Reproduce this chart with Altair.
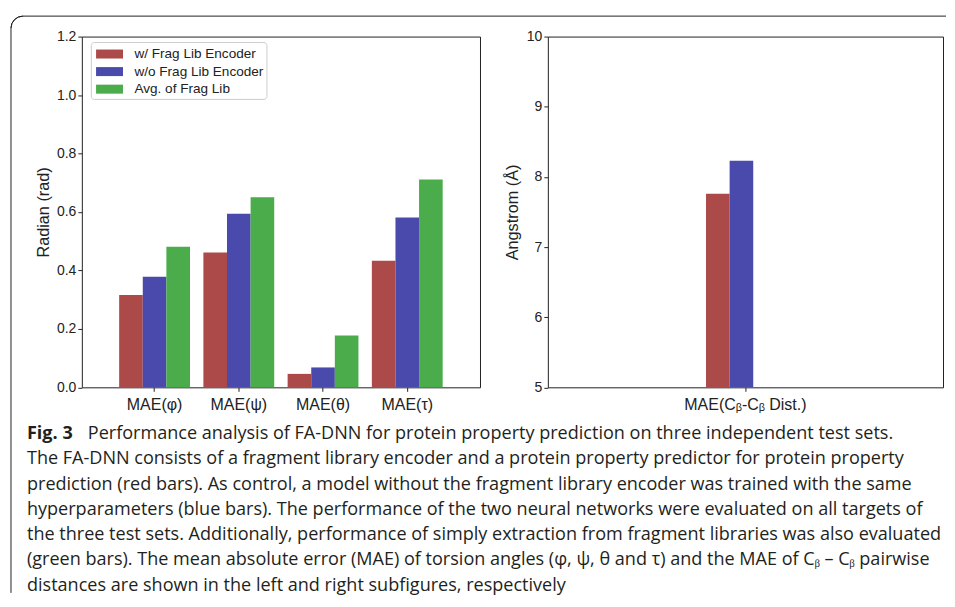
import altair as alt
import pandas as pd

# ---------------- data ----------------
metrics = ["MAE(φ)", "MAE(ψ)", "MAE(θ)", "MAE(τ)"]
series = ["w/ Frag Lib Encoder", "w/o Frag Lib Encoder", "Avg. of Frag Lib"]
colors = ["#AC4A4A", "#4A4AAC", "#4AAC4A"]
with_enc = [0.316, 0.461, 0.046, 0.433]
without_enc = [0.378, 0.594, 0.068, 0.581]
avg_lib = [0.481, 0.650, 0.177, 0.711]

dist_metric = ["MAE(Cᵦ-Cᵦ Dist.)"]
dist_with = [7.76]
dist_without = [8.23]

left_ticks = [0.0, 0.2, 0.4, 0.6, 0.8, 1.0, 1.2]
right_ticks = [5, 6, 7, 8, 9, 10]

caption_bold = ["Fig. 3"]
caption_lines = [
    "Performance analysis of FA-DNN for protein property prediction on three independent test sets.",
    "The FA-DNN consists of a fragment library encoder and a protein property predictor for protein property",
    "prediction (red bars). As control, a model without the fragment library encoder was trained with the same",
    "hyperparameters (blue bars). The performance of the two neural networks were evaluated on all targets of",
    "the three test sets. Additionally, performance of simply extraction from fragment libraries was also evaluated",
    "(green bars). The mean absolute error (MAE) of torsion angles (φ, ψ, θ and τ) and the MAE of Cᵦ – Cᵦ pairwise",
    "distances are shown in the left and right subfigures, respectively",
]

FONT = "Liberation Sans"
CAP_FONT = "Open Sans"
CAP_SIZE = 18.1
INK = "#222222"

# ---------------- left panel ----------------
left_df = pd.DataFrame({
    "metric": metrics * 3,
    "series": [s for s in series for _ in metrics],
    "value": with_enc + without_enc + avg_lib,
})

left_bars = alt.Chart(left_df).mark_bar().encode(
    x=alt.X("metric:N", sort=metrics,
            scale=alt.Scale(paddingInner=0.159, paddingOuter=0.443),
            axis=alt.Axis(title=None, labelAngle=0, labelFontSize=16, labelPadding=5)),
    xOffset=alt.XOffset("series:N", sort=series, scale=alt.Scale(domain=series)),
    y=alt.Y("value:Q", scale=alt.Scale(domain=[0, 1.2], nice=False),
            axis=alt.Axis(values=left_ticks, format=".1f", title="Radian (rad)",
                          titlePadding=5, labelPadding=2)),
    color=alt.Color("series:N", sort=series,
                    scale=alt.Scale(domain=series, range=colors),
                    legend=alt.Legend(
                        title=None, orient="none", legendX=9, legendY=5.5,
                        direction="vertical",
                        symbolType="M-0.75,-0.5H2.25V0.5H-0.75Z", symbolSize=324,
                        symbolStrokeWidth=0, symbolOpacity=1,
                        labelFont=FONT, labelFontSize=13.6, labelColor=INK,
                        labelOffset=22.7, rowPadding=1.6, padding=3,
                        strokeColor="#cccccc", fillColor="rgba(255,255,255,0.8)",
                        cornerRadius=3)),
)

# ---------------- caption + frame (drawn around the left panel's origin) ----------------
cap_df = pd.DataFrame({
    "text": caption_lines,
    "line": list(range(len(caption_lines))),
    "indent": [1] + [0] * (len(caption_lines) - 1),
})
bold_df = pd.DataFrame({"text": caption_bold, "line": [0], "indent": [0]})

cap_x = alt.X("indent:Q", scale=alt.Scale(domain=[0, 1], range=[-55, 6]), axis=None)
cap_y = alt.Y("line:Q", scale=alt.Scale(domain=[0, 6], range=[403.3, 555.4]), axis=None)

cap_text = alt.Chart(cap_df).mark_text(
    align="left", baseline="alphabetic", font=CAP_FONT, fontSize=CAP_SIZE, color="#231f20"
).encode(x=cap_x, y=cap_y, text="text:N")

cap_bold = alt.Chart(bold_df).mark_text(
    align="left", baseline="alphabetic", font=CAP_FONT, fontSize=CAP_SIZE,
    fontWeight="bold", color="#231f20"
).encode(x=cap_x, y=cap_y, text="text:N")

one = pd.DataFrame({"k": [0]})
frame_top = alt.Chart(one).mark_rule(color=INK, strokeWidth=1).encode(
    x=alt.value(-59), x2=alt.value(866), y=alt.value(-20.5))
frame_left = alt.Chart(one).mark_rule(color=INK, strokeWidth=1).encode(
    x=alt.value(-71), y=alt.value(-8.5), y2=alt.value(557.5))
frame_corner = alt.Chart(one).mark_arc(
    radius=12, radius2=12, theta=4.712389, theta2=6.283185,
    stroke=INK, strokeWidth=1, fillOpacity=0
).encode(x=alt.value(-59), y=alt.value(-8.5))

left = alt.layer(
    left_bars, frame_top, frame_left, frame_corner, cap_text, cap_bold
).resolve_scale(x="independent", y="independent").properties(width=399, height=351.5)

# ---------------- right panel ----------------
right_df = pd.DataFrame({
    "metric": dist_metric * 2,
    "series": [series[0]] * len(dist_metric) + [series[1]] * len(dist_metric),
    "value": dist_with + dist_without,
})

right = alt.Chart(right_df).mark_bar().encode(
    x=alt.X("metric:N",
            scale=alt.Scale(paddingInner=0.5016, paddingOuter=1),
            axis=alt.Axis(title=None, labelAngle=0, labelFontSize=16, labelPadding=5)),
    xOffset=alt.XOffset("series:N", sort=series[:2], scale=alt.Scale(domain=series[:2])),
    y=alt.Y("value:Q", scale=alt.Scale(domain=[5, 10], nice=False, zero=False),
            axis=alt.Axis(values=right_ticks, format="d", title="Angstrom (Å)",
                          titlePadding=6, labelPadding=2)),
    y2=alt.datum(5),
    color=alt.Color("series:N", scale=alt.Scale(domain=series, range=colors), legend=None),
).properties(width=396, height=351.5)

chart = alt.hconcat(left, right, spacing=68, bounds="flush").resolve_scale(
    color="independent"
).properties(
    padding={"left": 0, "top": 5, "right": 0, "bottom": 0}
).configure_view(
    stroke=INK, strokeWidth=1
).configure_axis(
    labelFont=FONT, titleFont=FONT, labelColor=INK, titleColor=INK,
    tickColor=INK, tickSize=4, tickWidth=1, domain=False, grid=False,
    labelFontSize=14, titleFontSize=16.3, titleFontWeight="normal"
)

chart.save("out.html", embed_options={"renderer": "svg", "actions": False})
